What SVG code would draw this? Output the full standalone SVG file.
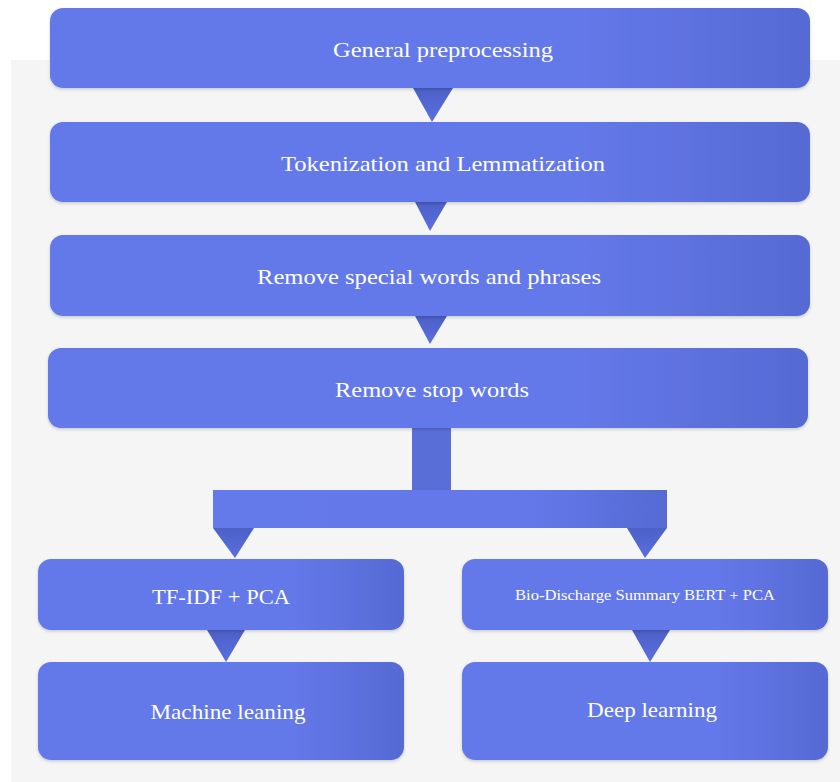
<svg xmlns="http://www.w3.org/2000/svg" width="840" height="782" viewBox="0 0 840 782">
<defs>
<linearGradient id="g" x1="0" y1="0" x2="1" y2="0">
<stop offset="0" stop-color="#6479ea"/>
<stop offset="0.7" stop-color="#6478e9"/>
<stop offset="1" stop-color="#566ad4"/>
</linearGradient>
<linearGradient id="gt" x1="0" y1="0" x2="0" y2="1">
<stop offset="0" stop-color="#4d60c8"/>
<stop offset="1" stop-color="#5a6fe0"/>
</linearGradient>
<filter id="sh" x="-5%" y="-10%" width="110%" height="130%">
<feDropShadow dx="0" dy="1.5" stdDeviation="1.5" flood-color="#000" flood-opacity="0.18"/>
</filter>
<style>
.box{fill:url(#g);filter:url(#sh)}
.tri{fill:url(#gt)}
text{font-family:"Liberation Serif","Times New Roman",serif;fill:#ffffff;text-anchor:middle}
</style>
</defs>
<rect x="0" y="0" width="840" height="782" fill="#ffffff"/>
<rect x="11" y="60" width="829" height="722" fill="#f5f5f5"/>
<g id="connectors">
<polygon class="tri" points="413,88 453,88 432,122"/>
<polygon class="tri" points="415,202 447,202 430,231"/>
<polygon class="tri" points="415,316 447,316 430,344"/>
<rect x="412" y="428" width="39" height="63" fill="#5a6ed8"/>
<rect x="213" y="490" width="454" height="38" fill="url(#g)"/>
<polygon class="tri" points="213,528 254,528 235,558"/>
<polygon class="tri" points="627,528 667,528 645,558"/>
<polygon class="tri" points="207,630 245,630 226,662"/>
<polygon class="tri" points="632,630 670,630 650,662"/>
</g>
<g id="n1"><rect class="box" x="50" y="8" width="760" height="80" rx="13"/><text x="443" y="57" font-size="21" textLength="220" lengthAdjust="spacingAndGlyphs">General preprocessing</text></g>
<g id="n2"><rect class="box" x="50" y="122" width="760" height="80" rx="13"/><text x="443" y="171" font-size="21" textLength="324" lengthAdjust="spacingAndGlyphs">Tokenization and Lemmatization</text></g>
<g id="n3"><rect class="box" x="50" y="235" width="760" height="81" rx="13"/><text x="429" y="284" font-size="21" textLength="344" lengthAdjust="spacingAndGlyphs">Remove special words and phrases</text></g>
<g id="n4"><rect class="box" x="48" y="348" width="760" height="80" rx="13"/><text x="432" y="397" font-size="21" textLength="194" lengthAdjust="spacingAndGlyphs">Remove stop words</text></g>
<g id="n5"><rect class="box" x="38" y="559" width="366" height="71" rx="13"/><text x="221" y="604" font-size="21" textLength="138" lengthAdjust="spacingAndGlyphs">TF-IDF + PCA</text></g>
<g id="n6"><rect class="box" x="462" y="559" width="366" height="71" rx="13"/><text x="645" y="600" font-size="14.5" textLength="260" lengthAdjust="spacingAndGlyphs">Bio-Discharge Summary BERT + PCA</text></g>
<g id="n7"><rect class="box" x="38" y="662" width="366" height="98" rx="13"/><text x="228" y="719" font-size="22" textLength="155" lengthAdjust="spacingAndGlyphs">Machine leaning</text></g>
<g id="n8"><rect class="box" x="462" y="662" width="366" height="98" rx="13"/><text x="652" y="717" font-size="22" textLength="130" lengthAdjust="spacingAndGlyphs">Deep learning</text></g>
</svg>
